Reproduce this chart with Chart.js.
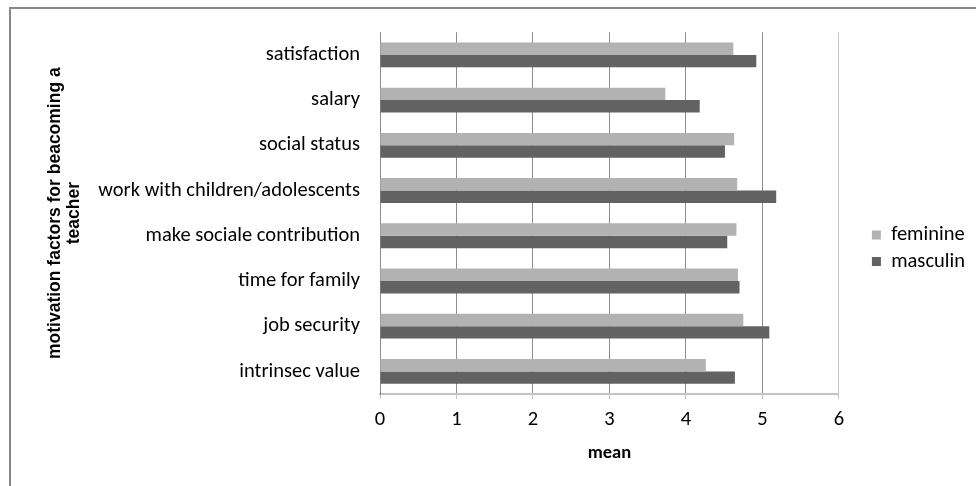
<!DOCTYPE html>
<html>
<head>
<meta charset="utf-8">
<script src="https://cdn.jsdelivr.net/npm/chart.js@4.4.1/dist/chart.umd.min.js"></script>
<style>
  html, body { margin: 0; padding: 0; background: #fff; overflow: hidden; }
  #frame { position: absolute; left: 9px; top: 7px; width: 1000px; height: 1000px; border: 2px solid #888; }
  #box { position: absolute; left: 0; top: 0; width: 976px; height: 486px; }
</style>
</head>
<body>
<div id="frame"></div>
<div id="box"><canvas id="myChart"></canvas></div>
<script>
let categories = ["satisfaction", "salary", "social status", "work with children/adolescents",
    "make sociale contribution", "time for family", "job security", "intrinsec value"];
let feminine = [4.62, 3.73, 4.63, 4.67, 4.66, 4.68, 4.75, 4.26];
let masculin = [4.92, 4.18, 4.51, 5.18, 4.54, 4.70, 5.09, 4.64];
let xTicks = [0, 1, 2, 3, 4, 5, 6];
let yTitle = ["motivation factors for beacoming a", "teacher"];
let xTitle = "mean";

let textFont = "Carlito, Lato, sans-serif";

// excel puts the legend a bit away from the plot
let legendShift = {
    id : "legendShift",
    afterLayout(chart) {
        chart.legend.left += 27;
        chart.legend.right += 27;
    }
};

let myChart = document.getElementById("myChart").getContext("2d");
let barChart = new Chart(myChart, {
    type : "bar",
    data : {
        labels : categories,
        datasets : [{
            label : "feminine",
            data : feminine,
            backgroundColor : "#b2b2b2",
        }, {
            label : "masculin",
            data : masculin,
            backgroundColor : "#626262",
        }],
    },
    plugins : [legendShift],
    options : {
        indexAxis : "y",
        responsive : true,
        maintainAspectRatio : false,
        animation : false,
        categoryPercentage : 0.55,
        barPercentage : 1.0,
        layout : {
            padding : {top : 31, left : 45, right : 28, bottom : 0}
        },
        scales : {
            x : {
                min : xTicks[0],
                max : xTicks[xTicks.length - 1],
                afterBuildTicks : function (scale) {
                    scale.ticks = xTicks.map(v => ({value : v}));
                },
                afterFit : function (scale) {
                    scale.height = 92;
                },
                grid : {
                    color : ctx => ctx.tick && ctx.tick.value === 6 ? "#c4c4c4" : "#8c8c8c",
                    tickColor : "#c4c4c4",
                    tickLength : 5,
                },
                border : {color : "#c4c4c4", width : 2},
                ticks : {
                    color : "#000",
                    padding : 9,
                    font : {family : textFont, size : 20.5},
                },
                title : {
                    display : true,
                    text : xTitle,
                    color : "#000",
                    padding : {top : 0, bottom : 22},
                    font : {family : textFont, size : 18.5, weight : "bold"},
                },
            },
            y : {
                afterFit : function (scale) {
                    scale.width = 380 - 45;
                },
                grid : {display : false, drawTicks : false},
                border : {color : "#8c8c8c", width : 1},
                ticks : {
                    color : "#000",
                    padding : 20,
                    font : {family : textFont, size : 20.5},
                },
                title : {
                    display : true,
                    text : yTitle,
                    color : "#000",
                    padding : 0,
                    font : {family : "'Liberation Sans', Arial, sans-serif", size : 17.5, weight : "bold", lineHeight : 1.12},
                },
            },
        },
        plugins : {
            legend : {
                position : "right",
                fullSize : false,
                title : {display : true, text : "", padding : {top : 56, bottom : 0}, font : {size : 12}},
                labels : {
                    color : "#000",
                    boxWidth : 9,
                    boxHeight : 9,
                    padding : 6,
                    font : {family : textFont, size : 20.5},
                },
            },
            tooltip : {enabled : false},
        },
    },
});
</script>
</body>
</html>
